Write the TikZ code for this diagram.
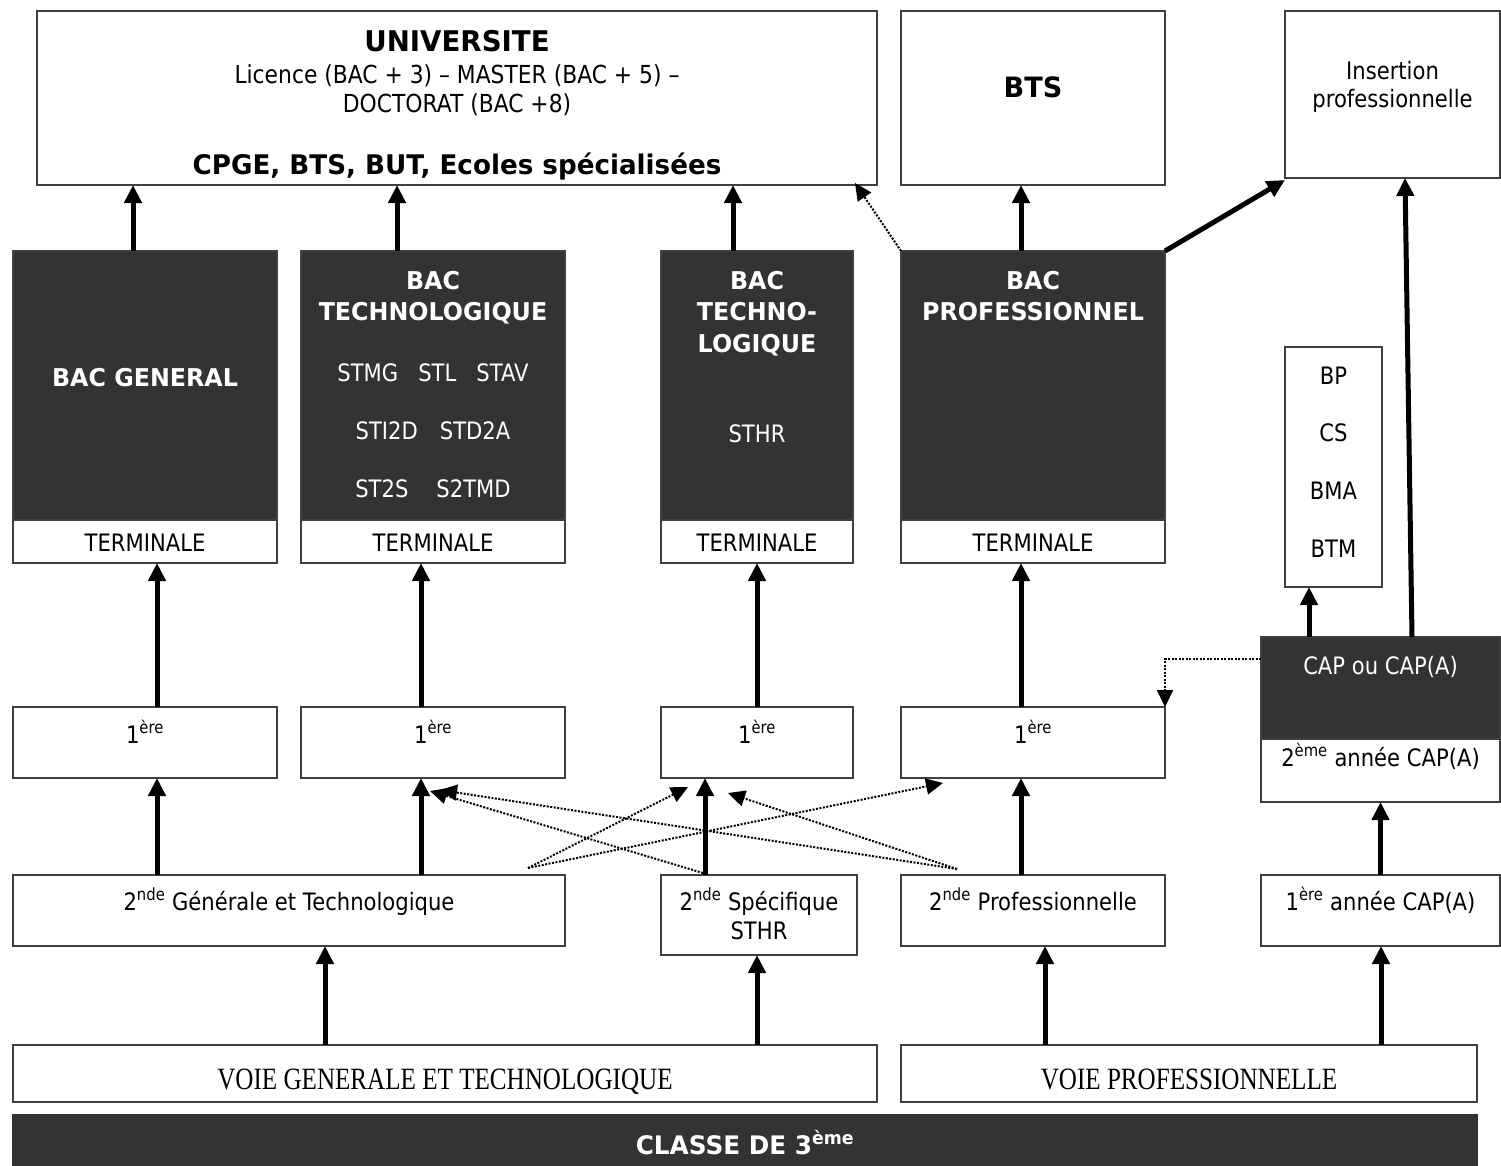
\documentclass[tikz,border=0pt]{standalone}
\usepackage{fontspec}
\setmainfont{DejaVu Sans}[FakeStretch=0.88]
\newfontfamily\headfont{DejaVu Sans}[FakeStretch=0.97]
\newfontfamily\voiefont{Liberation Serif}[FakeStretch=0.81]
\usetikzlibrary{arrows.meta}
\definecolor{bacgray}{HTML}{333333}
\definecolor{edgegray}{HTML}{404040}

\begin{document}
\begin{tikzpicture}[x=1pt,y=-1pt,
    box/.style={draw=edgegray,line width=1.5pt,fill=white,inner sep=0pt,outer sep=0pt},
    darkbox/.style={box,fill=bacgray},
    txt/.style={font=\fontsize{24}{29}\selectfont,inner sep=0pt,anchor=base},
    head/.style={font=\fontsize{24.5}{29}\headfont\bfseries,inner sep=0pt,anchor=base,text=white},
    headk/.style={head,text=black},
    flow/.style={line width=5pt,-{Triangle[length=18pt,width=17pt]}},
    alt/.style={line width=2pt,dash pattern=on 2pt off 1.5pt,-{Triangle[length=17pt,width=16pt]}}]
\useasboundingbox (0,0) rectangle (1501,1165);

% top row
\node[box,minimum width=840pt,minimum height=174pt] (uni) at (457,98) {};
\node[box,minimum width=264pt,minimum height=174pt] (bts) at (1033,98) {};
\node[box,minimum width=215pt,minimum height=167pt] (ins) at (1392.5,94.5) {};
\node[headk,font=\fontsize{28.5}{32}\headfont\bfseries] (uniA) at (457,51) {UNIVERSITE};
\node[txt,font=\fontsize{24.8}{29}\selectfont] (uniB) at (457,83) {Licence (BAC + 3) -- MASTER (BAC + 5) --};
\node[txt,font=\fontsize{24.8}{29}\selectfont] (uniC) at (457,112) {DOCTORAT (BAC +8)};
\node[headk,font=\fontsize{27}{31}\headfont\bfseries] (uniD) at (457,174) {CPGE, BTS, BUT, Ecoles spécialisées};
\node[headk,font=\fontsize{28}{31}\headfont\bfseries] (btsA) at (1033,97) {BTS};
\node[txt] (insA) at (1392.5,79) {Insertion};
\node[txt] (insB) at (1392.5,107) {professionnelle};

% bac row
\node[darkbox,minimum width=264pt,minimum height=269pt] (bg) at (145,385.5) {};
\node[darkbox,minimum width=264pt,minimum height=269pt] (bt) at (433,385.5) {};
\node[darkbox,minimum width=192pt,minimum height=269pt] (bth) at (757,385.5) {};
\node[darkbox,minimum width=264pt,minimum height=269pt] (bp) at (1033,385.5) {};
\node[box,minimum width=264pt,minimum height=43pt] (bgT) at (145,541.5) {};
\node[box,minimum width=264pt,minimum height=43pt] (btT) at (433,541.5) {};
\node[box,minimum width=192pt,minimum height=43pt] (bthT) at (757,541.5) {};
\node[box,minimum width=264pt,minimum height=43pt] (bpT) at (1033,541.5) {};
\foreach \n/\x in {bgT/145,btT/433,bthT/757,bpT/1033}
    \node[txt] (\n L) at (\x,551) {TERMINALE};

\node[head] (bgA) at (145,386) {BAC GENERAL};
\node[head] (btA) at (433,289) {BAC};
\node[head] (btB) at (433,320) {TECHNOLOGIQUE};
\node[txt,text=white] (btC) at (433,381) {STMG\hspace{20pt}STL\hspace{20pt}STAV};
\node[txt,text=white] (btD) at (433,439) {STI2D\hspace{22pt}STD2A};
\node[txt,text=white] (btE) at (433,497) {ST2S\hspace{28pt}S2TMD};
\node[head] (bthA) at (757,289) {BAC};
\node[head] (bthB) at (757,320) {TECHNO-};
\node[head] (bthC) at (757,352) {LOGIQUE};
\node[txt,text=white] (bthD) at (757,442) {STHR};
\node[head] (bpA) at (1033,289) {BAC};
\node[head] (bpB) at (1033,320) {PROFESSIONNEL};

\node[box,minimum width=97pt,minimum height=240pt] (bpx) at (1333.5,467) {};
\foreach \t/\y in {BP/384,CS/441,BMA/499,BTM/557}
    \node[txt] (bpx\t) at (1333.5,\y) {\t};

% premiere row
\node[box,minimum width=264pt,minimum height=71pt] (p1) at (145,742.5) {};
\node[box,minimum width=264pt,minimum height=71pt] (p2) at (433,742.5) {};
\node[box,minimum width=192pt,minimum height=71pt] (p3) at (757,742.5) {};
\node[box,minimum width=264pt,minimum height=71pt] (p4) at (1033,742.5) {};
\foreach \n/\x in {p1/145,p2/433,p3/757,p4/1033}
    \node[txt] (\n L) at (\x,743) {1\textsuperscript{ère}};

\node[darkbox,minimum width=239pt,minimum height=102pt] (capd) at (1380.5,688) {};
\node[box,minimum width=239pt,minimum height=63pt] (capT) at (1380.5,770.5) {};
\node[txt,text=white] (capA) at (1380.5,674) {CAP ou CAP(A)};
\node[txt] (capB) at (1380.5,766) {2\textsuperscript{ème} année CAP(A)};

% seconde row
\node[box,minimum width=552pt,minimum height=71pt] (s1) at (289,910.5) {};
\node[box,minimum width=196pt,minimum height=80pt] (s2) at (759,915) {};
\node[box,minimum width=264pt,minimum height=71pt] (s3) at (1033,910.5) {};
\node[box,minimum width=239pt,minimum height=71pt] (s4) at (1380.5,910.5) {};
\node[txt] (s1L) at (289,910) {2\textsuperscript{nde} Générale et Technologique};
\node[txt] (s2L) at (759,910) {2\textsuperscript{nde} Spécifique};
\node[txt] (s2M) at (759,939) {STHR};
\node[txt] (s3L) at (1033,910) {2\textsuperscript{nde} Professionnelle};
\node[txt] (s4L) at (1380.5,910) {1\textsuperscript{ère} année CAP(A)};

% voies
\node[box,minimum width=864pt,minimum height=57pt] (v1) at (445,1073.5) {};
\node[box,minimum width=576pt,minimum height=57pt] (v2) at (1189,1073.5) {};
\node[txt,font=\fontsize{31}{36}\voiefont] (v1L) at (445,1089) {VOIE GENERALE ET TECHNOLOGIQUE};
\node[txt,font=\fontsize{31}{36}\voiefont] (v2L) at (1189,1089) {VOIE PROFESSIONNELLE};
\node[darkbox,draw=bacgray,minimum width=1464pt,minimum height=50pt] (cls) at (745,1140) {};
\node[head,font=\fontsize{25.5}{30}\headfont\bfseries] (clsL) at (745,1154) {CLASSE DE 3\textsuperscript{ème}};

% arrows
\draw[flow] ([xshift=-12pt]bg.north) -- ([xshift=-12pt]bg.north |- uni.south);
\draw[flow] ([xshift=-36pt]bt.north) -- ([xshift=-36pt]bt.north |- uni.south);
\draw[flow] ([xshift=-24pt]bth.north) -- ([xshift=-24pt]bth.north |- uni.south);
\draw[flow] ([xshift=-12pt]bp.north) -- ([xshift=-12pt]bp.north |- bts.south);
\draw[flow] (bp.north east) -- ([yshift=-2pt]ins.south west);
\draw[alt] (bp.north west) -- ([xshift=-22pt,yshift=2pt]uni.south east);

\draw[flow] ([xshift=12pt]p1.north) -- ([xshift=12pt]p1.north |- bgT.south);
\draw[flow] ([xshift=-12pt]p2.north) -- ([xshift=-12pt]p2.north |- btT.south);
\draw[flow] (p3.north) -- (bthT.south);
\draw[flow] ([xshift=-12pt]p4.north) -- ([xshift=-12pt]p4.north |- bpT.south);

\draw[flow] ([xshift=-132pt]s1.north) -- ([xshift=-132pt]s1.north |- p1.south);
\draw[flow] ([xshift=132pt]s1.north) -- ([xshift=132pt]s1.north |- p2.south);
\draw[flow] ([xshift=-54pt]s2.north) -- ([xshift=-54pt]s2.north |- p3.south);
\draw[flow] ([xshift=-12pt]s3.north) -- ([xshift=-12pt]s3.north |- p4.south);
\draw[flow] (s4.north) -- (capT.south);
\draw[flow] ([xshift=-71.5pt]capd.north) -- ([xshift=-71.5pt]capd.north |- bpx.south);
\draw[flow] ([xshift=31.5pt]capd.north) -- ([xshift=12.5pt]ins.south);
\draw[alt] ([yshift=29pt]capd.west) -| (p4.north east);

\draw[flow] ([xshift=-120pt]v1.north) -- ([xshift=-120pt]v1.north |- s1.south);
\draw[flow] ([xshift=312pt]v1.north) -- ([xshift=312pt]v1.north |- s2.south);
\draw[flow] ([xshift=-144pt]v2.north) -- ([xshift=-144pt]v2.north |- s3.south);
\draw[flow] ([xshift=192pt]v2.north) -- ([xshift=192pt]v2.north |- s4.south);

% passerelles
\coordinate (gt) at ([xshift=-37pt,yshift=7pt]s1.north east);
\coordinate (sp) at ([xshift=42pt,yshift=2pt]s2.north west);
\coordinate (pro) at ([xshift=56pt,yshift=6pt]s3.north west);
\draw[alt] (gt) -- ([xshift=27pt,yshift=-9pt]p3.south west);
\draw[alt] (gt) -- ([xshift=42pt,yshift=-5pt]p4.south west);
\draw[alt] (sp) -- ([xshift=-3pt,yshift=-13pt]p2.south);
\draw[alt] (pro) -- ([xshift=7pt,yshift=-12pt]p2.south);
\draw[alt] (pro) -- ([xshift=-29pt,yshift=-15pt]p3.south);
\end{tikzpicture}
\end{document}
